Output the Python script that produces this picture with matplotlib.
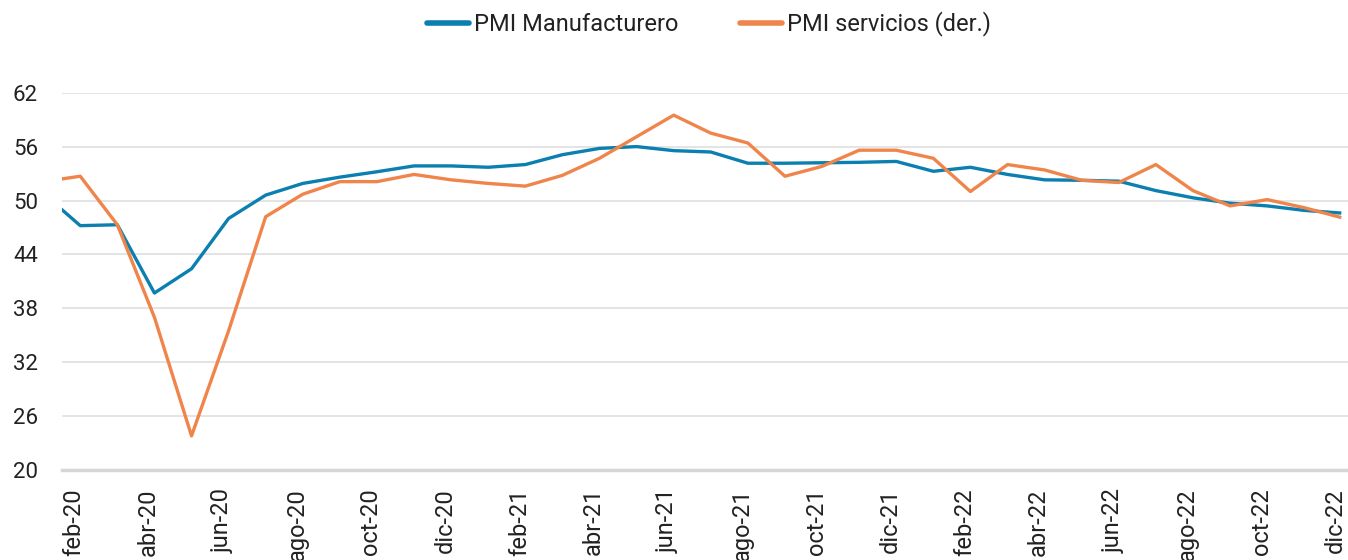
import matplotlib
matplotlib.use("Agg")
import matplotlib.pyplot as plt
import matplotlib.transforms as mtransforms

months = ["ene-20", "feb-20", "mar-20", "abr-20", "may-20", "jun-20", "jul-20", "ago-20",
          "sep-20", "oct-20", "nov-20", "dic-20", "ene-21", "feb-21", "mar-21", "abr-21",
          "may-21", "jun-21", "jul-21", "ago-21", "sep-21", "oct-21", "nov-21", "dic-21",
          "ene-22", "feb-22", "mar-22", "abr-22", "may-22", "jun-22", "jul-22", "ago-22",
          "sep-22", "oct-22", "nov-22", "dic-22"]

pmi_manufacturero = [50.8, 47.2, 47.3, 39.7, 42.4, 48.0, 50.6, 51.9, 52.6, 53.2, 53.85, 53.85,
                     53.7, 54.0, 55.1, 55.8, 56.0, 55.55, 55.4, 54.15, 54.15, 54.2, 54.25, 54.35,
                     53.25, 53.7, 52.9, 52.3, 52.25, 52.15, 51.1, 50.3, 49.7, 49.4, 48.9, 48.6]

pmi_servicios = [52.1, 52.7, 47.3, 37.0, 23.8, 35.5, 48.2, 50.7, 52.1, 52.1, 52.9, 52.3,
                 51.9, 51.6, 52.8, 54.7, 57.1, 59.5, 57.5, 56.4, 52.7, 53.8, 55.6, 55.6,
                 54.7, 51.0, 54.0, 53.4, 52.25, 52.0, 54.0, 51.1, 49.4, 50.1, 49.2, 48.1]

y_ticks = [20, 26, 32, 38, 44, 50, 56, 62]

plt.rcParams['font.family'] = ['Roboto', 'DejaVu Sans']

fig = plt.figure(figsize=(13.48, 5.6), dpi=100)
ax = fig.add_axes([61.7 / 1348, 1 - 470 / 560, 1 - 61.7 / 1348, (470 - 92.7) / 560])

x = list(range(-1, len(months) - 1))
blue = "#0B7FB0"
orange = "#F0854B"
ax.plot(x, pmi_manufacturero, color=blue, lw=2.4, label="PMI Manufacturero", solid_capstyle='butt')
ax.plot(x, pmi_servicios, color=orange, lw=2.4, label="PMI servicios (der.)", solid_capstyle='butt')

ax.set_xlim(-0.5, 34.18)
ax.set_ylim(20, 62)
ax.set_yticks(y_ticks)
ax.set_yticklabels([str(v) for v in y_ticks])
tick_pos = x[1::2]
ax.set_xticks(tick_pos)
ax.set_xticklabels(months[1::2], rotation=90, va='top', ha='center')

ax.grid(axis='y', color='#e2e2e2', lw=1.3)
ax.set_axisbelow(True)
for s in ['top', 'right', 'left']:
    ax.spines[s].set_visible(False)
ax.spines['bottom'].set_color('#d6d6d6')
ax.spines['bottom'].set_linewidth(2.5)
ax.tick_params(axis='y', length=0, labelsize=16, colors='#222222', pad=17)
ax.tick_params(axis='x', length=0, labelsize=17, colors='#222222', pad=13)
for lab in ax.get_yticklabels():
    lab.set_horizontalalignment('right')

offset = mtransforms.ScaledTranslation(-6 / 100, 0, fig.dpi_scale_trans)
for lab in ax.get_xticklabels():
    lab.set_transform(lab.get_transform() + offset)

leg = fig.legend(loc='center', bbox_to_anchor=(0.526, 1 - 24 / 560), ncol=2, frameon=False,
                 fontsize=17, handlelength=1.8, handletextpad=0.2, columnspacing=2.6)
for lh in leg.get_lines():
    lh.set_linewidth(4)
    lh.set_solid_capstyle('round')
for t in leg.get_texts():
    t.set_color('#222222')

fig.savefig("out.png", dpi=100)
